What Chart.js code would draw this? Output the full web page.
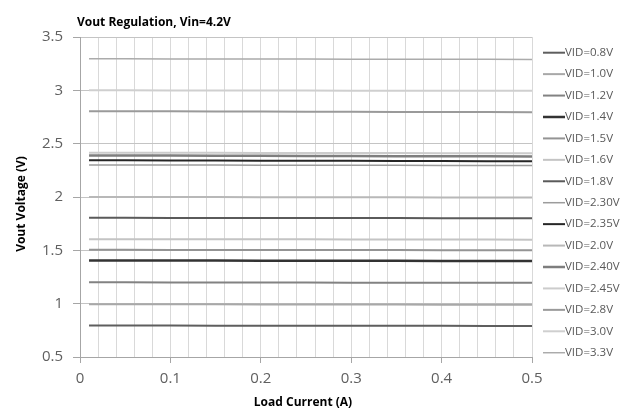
<!DOCTYPE html>
<html>
<head>
<meta charset="utf-8">
<script src="https://cdn.jsdelivr.net/npm/chart.js@4/dist/chart.umd.min.js"></script>
<style>
  html, body { margin: 0; padding: 0; background: #fff; }
  canvas { display: block; }
</style>
</head>
<body>
<canvas id="chart" width="638" height="412"></canvas>
<script>
const loadCurrent = [0.01, 0.05, 0.1, 0.15, 0.2, 0.25, 0.3, 0.35, 0.4, 0.45, 0.5];

const seriesNames = ['VID=0.8V', 'VID=1.0V', 'VID=1.2V', 'VID=1.4V', 'VID=1.5V', 'VID=1.6V', 'VID=1.8V',
  'VID=2.30V', 'VID=2.35V', 'VID=2.0V', 'VID=2.40V', 'VID=2.45V', 'VID=2.8V', 'VID=3.0V', 'VID=3.3V'];

const vid08 = [0.795, 0.795, 0.795, 0.794, 0.794, 0.793, 0.793, 0.792, 0.792, 0.791, 0.790];
const vid10 = [0.995, 0.995, 0.994, 0.994, 0.993, 0.993, 0.992, 0.992, 0.991, 0.991, 0.990];
const vid12 = [1.200, 1.200, 1.199, 1.199, 1.198, 1.198, 1.197, 1.197, 1.196, 1.196, 1.195];
const vid14 = [1.405, 1.405, 1.404, 1.404, 1.403, 1.403, 1.402, 1.402, 1.401, 1.401, 1.400];
const vid15 = [1.505, 1.505, 1.504, 1.504, 1.503, 1.503, 1.502, 1.502, 1.501, 1.501, 1.500];
const vid16 = [1.605, 1.605, 1.604, 1.604, 1.603, 1.603, 1.602, 1.602, 1.601, 1.601, 1.600];
const vid18 = [1.805, 1.805, 1.804, 1.804, 1.803, 1.803, 1.802, 1.802, 1.801, 1.801, 1.800];
const vid230 = [2.300, 2.300, 2.299, 2.299, 2.298, 2.298, 2.297, 2.297, 2.296, 2.296, 2.295];
const vid235 = [2.345, 2.344, 2.343, 2.342, 2.341, 2.340, 2.339, 2.338, 2.337, 2.336, 2.335];
const vid20 = [2.000, 2.000, 1.999, 1.999, 1.998, 1.998, 1.997, 1.997, 1.996, 1.996, 1.995];
const vid240 = [2.390, 2.389, 2.388, 2.387, 2.386, 2.385, 2.384, 2.383, 2.382, 2.381, 2.380];
const vid245 = [2.415, 2.415, 2.414, 2.414, 2.413, 2.413, 2.412, 2.412, 2.411, 2.411, 2.410];
const vid28 = [2.805, 2.804, 2.803, 2.802, 2.801, 2.800, 2.799, 2.798, 2.797, 2.796, 2.795];
const vid30 = [3.000, 3.000, 2.999, 2.999, 2.998, 2.998, 2.997, 2.997, 2.996, 2.996, 2.995];
const vid33 = [3.295, 3.295, 3.294, 3.294, 3.293, 3.293, 3.292, 3.292, 3.291, 3.291, 3.290];

const seriesValues = [vid08, vid10, vid12, vid14, vid15, vid16, vid18, vid230, vid235, vid20, vid240, vid245, vid28, vid30, vid33];
const seriesColors = ['#5e5e5e', '#a8a8a8', '#828282', '#333333', '#949494', '#c4c4c4', '#5a5a5a',
  '#9c9c9c', '#262626', '#b8b8b8', '#7e7e7e', '#cccccc', '#9a9a9a', '#cfcfcf', '#ababab'];
const seriesWidths = [2, 2, 2, 2.5, 2, 2, 2, 1.5, 2, 2, 2.5, 2, 2, 2, 1.5];

const xTicks = [0, 0.1, 0.2, 0.3, 0.4, 0.5];
const yTicks = [0.5, 1, 1.5, 2, 2.5, 3, 3.5];

const FONT = '"Open Sans", sans-serif';

const datasets = seriesNames.map((name, i) => ({
  label: name,
  data: loadCurrent.map((x, j) => ({ x, y: seriesValues[i][j] })),
  borderColor: seriesColors[i],
  backgroundColor: seriesColors[i],
  borderWidth: seriesWidths[i],
  pointRadius: 0,
  tension: 0
}));

const textPlugin = {
  id: 'texts',
  afterDraw(chart) {
    const ctx = chart.ctx;
    ctx.save();
    ctx.fillStyle = '#000';
    ctx.font = 'bold 12px ' + FONT;
    ctx.textAlign = 'left';
    ctx.textBaseline = 'middle';
    ctx.fillText('Vout Regulation, Vin=4.2V', 77, 23);

    ctx.font = 'bold 12px ' + FONT;
    ctx.textAlign = 'center';
    ctx.fillText('Load Current (A)', 303, 403);
    ctx.save();
    ctx.translate(22, 204);
    ctx.rotate(-Math.PI / 2);
    ctx.fillText('Vout Voltage (V)', 0, 0);
    ctx.restore();

    // legend
    ctx.font = '11.5px ' + FONT;
    ctx.textAlign = 'left';
    seriesNames.forEach((name, i) => {
      const y = 52.7 + i * 21.43;
      ctx.strokeStyle = seriesColors[i];
      ctx.lineWidth = seriesWidths[i];
      ctx.beginPath();
      ctx.moveTo(543, y);
      ctx.lineTo(565, y);
      ctx.stroke();
      ctx.fillStyle = '#595959';
      ctx.fillText(name, 565, y);
    });
    ctx.restore();
  }
};

new Chart(document.getElementById('chart'), {
  type: 'line',
  data: { datasets },
  options: {
    responsive: false,
    animation: false,
    devicePixelRatio: 1,
    layout: { padding: { top: 37, right: 106, left: 0, bottom: 0 } },
    plugins: { legend: { display: false }, tooltip: { enabled: false }, title: { display: false } },
    scales: {
      x: {
        type: 'linear',
        min: 0,
        max: 0.5,
        afterFit: (s) => { s.height = 55; },
        afterBuildTicks: (s) => {
          const t = [];
          for (let k = 0; k <= 25; k++) t.push({ value: k / 50 });
          s.ticks = t;
        },
        ticks: {
          autoSkip: false,
          maxRotation: 0,
          padding: 7,
          color: '#606060',
          font: { family: '"Open Sans", sans-serif', size: 15 },
          callback: (v) => {
            const r = Math.round(v * 100) / 100;
            return xTicks.some((t) => Math.abs(t - r) < 1e-6) ? String(r) : '';
          }
        },
        grid: {
          color: '#d9d9d9',
          lineWidth: 1,
          tickLength: 6,
          tickColor: (c) => {
            const r = Math.round(c.tick.value * 100) / 100;
            return xTicks.some((t) => Math.abs(t - r) < 1e-6) ? '#a6a6a6' : 'rgba(0,0,0,0)';
          }
        },
        border: { color: '#a6a6a6' }
      },
      y: {
        min: 0.5,
        max: 3.5,
        afterFit: (s) => { s.width = 80; },
        afterBuildTicks: (s) => { s.ticks = yTicks.map((v) => ({ value: v })); },
        ticks: {
          padding: 10,
          color: '#606060',
          font: { family: '"Open Sans", sans-serif', size: 15 },
          callback: (v) => String(v)
        },
        grid: { color: '#c4c4c4', lineWidth: 1, tickLength: 7, tickColor: '#a6a6a6' },
        border: { color: '#a6a6a6' }
      }
    }
  },
  plugins: [textPlugin]
});
</script>
</body>
</html>
